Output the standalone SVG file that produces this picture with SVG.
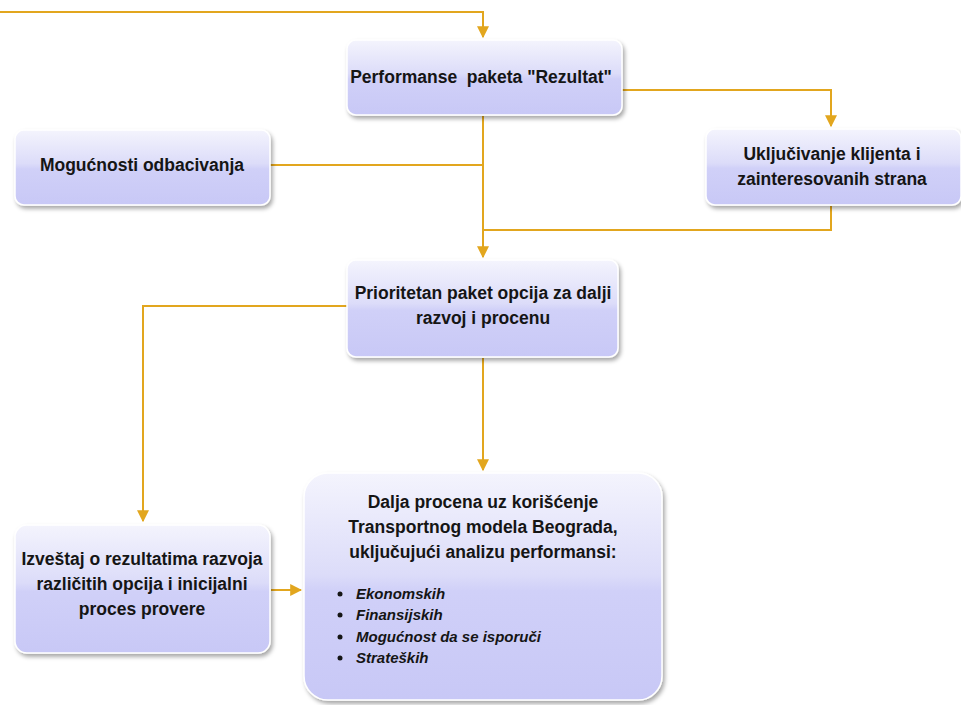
<svg xmlns="http://www.w3.org/2000/svg" width="961" height="705" viewBox="0 0 961 705">
<defs>
<linearGradient id="g" x1="0" y1="0" x2="0" y2="1">
<stop offset="0" stop-color="#f4f4fd"/>
<stop offset="0.45" stop-color="#dcdcf9"/>
<stop offset="0.52" stop-color="#d0d0f8"/>
<stop offset="1" stop-color="#c8c8f6"/>
</linearGradient>
<filter id="sh" x="-10%" y="-10%" width="125%" height="130%">
<feDropShadow dx="2" dy="3" stdDeviation="2" flood-color="#000" flood-opacity="0.35"/>
</filter>
<marker id="ar" viewBox="0 0 10 10" refX="9" refY="5" markerWidth="12" markerHeight="12" markerUnits="userSpaceOnUse" orient="auto">
<path d="M0,0 L10,5 L0,10 z" fill="#e2a61e"/>
</marker>
<style>
.box{fill:url(#g);stroke:#ffffff;stroke-width:1.5;filter:url(#sh)}
.t{font-family:"Liberation Sans",Arial,sans-serif;font-weight:bold;font-size:17.5px;fill:#151515;text-anchor:middle}
.li{font-family:"Liberation Sans",Arial,sans-serif;font-weight:bold;font-style:italic;font-size:15px;fill:#151515}
.c{fill:none;stroke:#e2a61e;stroke-width:2}
</style>
</defs>
<g id="connectors">
<path class="c" d="M0,12 H483 V37" marker-end="url(#ar)"/>
<path class="c" d="M622,90 H831 V126" marker-end="url(#ar)"/>
<path class="c" d="M270,165 H483"/>
<path class="c" d="M831,206 V230 H483"/>
<path class="c" d="M483,116 V257" marker-end="url(#ar)"/>
<path class="c" d="M347,306 H143 V521" marker-end="url(#ar)"/>
<path class="c" d="M483,358 V470" marker-end="url(#ar)"/>
<path class="c" d="M271,590 H301" marker-end="url(#ar)"/>
</g>
<g id="n1">
<rect class="box" x="347" y="40" width="275" height="75" rx="9"/>
<text class="t" x="481" y="83" xml:space="preserve">Performanse  paketa "Rezultat"</text>
</g>
<g id="n2">
<rect class="box" x="15" y="130" width="255" height="75" rx="9"/>
<text class="t" x="142" y="171">Mogućnosti odbacivanja</text>
</g>
<g id="n3">
<rect class="box" x="706" y="129" width="255" height="76" rx="9"/>
<text class="t" x="832" y="160">Uključivanje klijenta i</text>
<text class="t" x="832" y="185">zainteresovanih strana</text>
</g>
<g id="n4">
<rect class="box" x="347" y="260" width="271" height="97" rx="9"/>
<text class="t" x="483" y="299">Prioritetan paket opcija za dalji</text>
<text class="t" x="483" y="324">razvoj i procenu</text>
</g>
<g id="n5">
<rect class="box" x="15" y="525" width="255" height="128" rx="12"/>
<text class="t" x="142" y="565">Izveštaj o rezultatima razvoja</text>
<text class="t" x="142" y="590">različitih opcija i inicijalni</text>
<text class="t" x="142" y="615">proces provere</text>
</g>
<g id="n6">
<rect class="box" x="304" y="473" width="358" height="227" rx="24"/>
<text class="t" x="483" y="508">Dalja procena uz korišćenje</text>
<text class="t" x="483" y="533">Transportnog modela Beograda,</text>
<text class="t" x="483" y="558">uključujući analizu performansi:</text>
<circle cx="340" cy="594" r="2.5" fill="#151515"/>
<circle cx="340" cy="615" r="2.5" fill="#151515"/>
<circle cx="340" cy="637" r="2.5" fill="#151515"/>
<circle cx="340" cy="658" r="2.5" fill="#151515"/>
<text class="li" x="356" y="599">Ekonomskih</text>
<text class="li" x="356" y="620">Finansijskih</text>
<text class="li" x="356" y="642">Mogućnost da se isporuči</text>
<text class="li" x="356" y="663">Strateških</text>
</g>
</svg>
